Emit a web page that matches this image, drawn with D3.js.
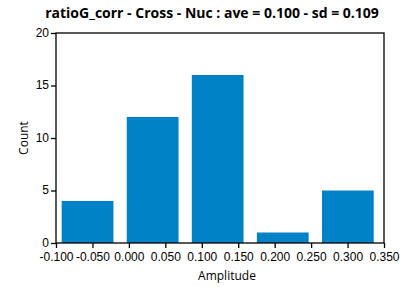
<!DOCTYPE html>
<html>
<head>
<meta charset="utf-8">
<script src="https://cdn.jsdelivr.net/npm/d3@7"></script>
<style>
  body { margin: 0; background: #fff; }
  svg { display: block; font-family: "Open Sans", "Noto Sans", sans-serif; }
  .tick text { font-size: 12px; fill: #000; }
</style>
</head>
<body>
<svg width="408" height="287"></svg>
<script>
const title = "ratioG_corr - Cross - Nuc : ave = 0.100 - sd = 0.109";
const binCenters = [-0.0567, 0.0326, 0.1218, 0.2111, 0.3004];
const counts = [4, 12, 16, 1, 5];
const barWidth = 0.071;
const xTicks = [-0.1, -0.05, 0, 0.05, 0.1, 0.15, 0.2, 0.25, 0.3, 0.35];
const yTicks = [0, 5, 10, 15, 20];

const svg = d3.select("svg");
const plotLeft = 56, plotRight = 384, plotTop = 33, plotBottom = 243;

const x = d3.scaleLinear().domain([-0.1, 0.35]).range([plotLeft, plotRight]);
const y = d3.scaleLinear().domain([0, 20]).range([plotBottom, plotTop]);

// bars
svg.selectAll(".bar")
    .data(counts)
    .enter()
    .append("rect")
    .attr("class", "bar")
    .attr("x", (d, i) => x(binCenters[i] - barWidth / 2))
    .attr("width", (d, i) => x(binCenters[i] + barWidth / 2) - x(binCenters[i] - barWidth / 2))
    .attr("y", d => y(d))
    .attr("height", d => y(0) - y(d))
    .attr("fill", "#0082c6");

// frame
svg.append("rect")
    .attr("x", plotLeft)
    .attr("y", plotTop)
    .attr("width", plotRight - plotLeft)
    .attr("height", plotBottom - plotTop)
    .attr("fill", "none")
    .attr("stroke", "#000")
    .attr("stroke-width", 1.3);

// axes
const xAxis = svg.append("g")
    .attr("transform", `translate(0,${plotBottom})`)
    .call(d3.axisBottom(x).tickValues(xTicks).tickSize(5).tickPadding(4));
const yAxis = svg.append("g")
    .attr("transform", `translate(${plotLeft},0)`)
    .call(d3.axisLeft(y).tickValues(yTicks).tickSize(5).tickPadding(2));
[xAxis, yAxis].forEach(g => {
    g.select(".domain").remove();
    g.selectAll(".tick line").attr("stroke", "#000").attr("stroke-width", 1.3);
});
xAxis.selectAll(".tick text").text(d => d.toFixed(3));
yAxis.selectAll(".tick text").attr("dy", "0.28em");

// labels
svg.append("text")
    .attr("x", 212)
    .attr("y", 18)
    .attr("text-anchor", "middle")
    .attr("font-size", 14)
    .attr("font-weight", "bold")
    .text(title);

svg.append("text")
    .attr("x", 227)
    .attr("y", 280)
    .attr("text-anchor", "middle")
    .attr("font-size", 12)
    .text("Amplitude");

svg.append("text")
    .attr("transform", `translate(28,138) rotate(-90)`)
    .attr("text-anchor", "middle")
    .attr("font-size", 12)
    .text("Count");
</script>
</body>
</html>
